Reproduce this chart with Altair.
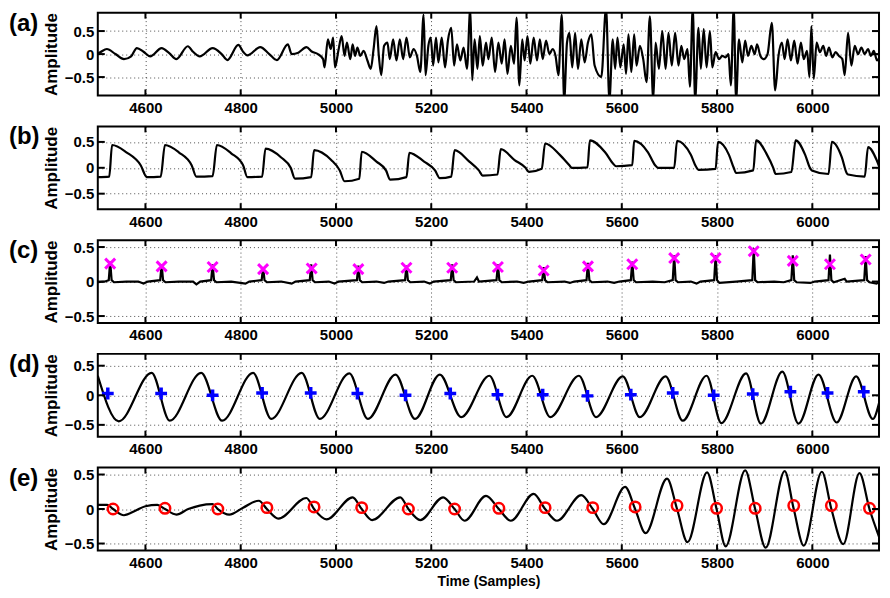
import altair as alt
import pandas as pd

# ---------------- data ----------------
x_domain = [4500, 6140]
x_ticks = [4600, 4800, 5000, 5200, 5400, 5600, 5800, 6000]
y_ticks = [-0.5, 0, 0.5]
panel_labels = ["(a)", "(b)", "(c)", "(d)", "(e)"]
y_domains = [[-0.9, 0.9], [-0.8, 0.8], [-0.6, 0.6], [-0.7, 0.7], [-0.6, 0.6]]

a_points = [
    (4500, 0.02), (4503, 0.03), (4519, 0.11), (4537, 0.0), (4555, -0.11), (4570, -0.05), (4582, 0.13),
    (4596, 0.05), (4610, -0.05), (4634, 0.13), (4650, 0.02), (4665, -0.11), (4689, 0.17), (4700, 0.05),
    (4714, -0.05), (4741, 0.13), (4760, 0.0), (4772, -0.13), (4795, 0.2), (4805, 0.05), (4814, -0.03),
    (4841, 0.15), (4860, 0.0), (4876, -0.13), (4899, 0.21), (4907, 0.0), (4921, 0.03), (4938, 0.15),
    (4950, 0.05), (4962, 0.0),
    (4973, -0.11), (4976, -0.29), (4983, 0.32), (4989, 0.11), (4994, 0.36), (4998, -0.29), (5005, 0.07),
    (5012, 0.39), (5018, -0.04), (5023, 0.25), (5030, -0.11), (5035, 0.21), (5040, -0.04), (5045, 0.14),
    (5051, -0.04), (5058, 0.07), (5066, -0.14), (5073, -0.32), (5079, 0.11), (5085, 0.61), (5090, -0.04),
    (5095, -0.46), (5101, 0.18), (5108, 0.25), (5113, -0.11), (5120, 0.32), (5127, -0.14), (5134, 0.32),
    (5141, -0.11), (5148, 0.36), (5155, -0.07), (5163, 0.11), (5170, -0.04), (5177, -0.39), (5184, 0.86),
    (5188, -0.46), (5194, 0.18), (5199, 0.36), (5204, -0.25), (5210, 0.36), (5215, -0.18), (5222, 0.36),
    (5229, -0.29), (5235, 0.29), (5242, 0.57), (5248, -0.25), (5254, 0.21), (5261, -0.14), (5268, 0.14),
    (5275, -0.32), (5282, 1.0), (5286, -0.57), (5291, 0.32), (5297, -0.32), (5302, 0.39), (5308, -0.25),
    (5315, 0.25), (5320, -0.11), (5327, 0.36), (5334, -0.39), (5341, 0.25), (5348, -0.21), (5354, 0.32),
    (5360, -0.43), (5367, 0.18), (5374, -0.21), (5379, 0.79), (5385, -0.68), (5391, 0.32), (5396, -0.14),
    (5402, 0.39), (5408, -0.21), (5415, 0.36), (5422, -0.14), (5428, 0.32), (5434, -0.11), (5441, 0.29),
    (5448, 0.0), (5455, 0.11), (5461, -0.04), (5467, -0.46), (5474, 0.86), (5479, -1.0), (5485, 0.25),
    (5490, 0.46), (5496, -0.29), (5502, 0.46), (5508, -0.32), (5515, 0.32), (5522, -0.18), (5529, 0.25),
    (5536, 0.43), (5543, -0.25), (5557, -0.5), (5567, 1.0), (5574, -1.0), (5581, 0.32), (5586, -0.32),
    (5591, 0.36), (5597, -0.29), (5604, 0.21), (5609, -0.43), (5614, 0.43), (5620, -0.39), (5626, 0.43),
    (5631, -0.25), (5638, 0.18), (5645, -0.11), (5652, -0.61), (5659, 0.82), (5666, -1.0), (5671, 0.25),
    (5678, -0.32), (5685, 0.5), (5692, -0.32), (5698, 0.46), (5705, -0.25), (5712, 0.46), (5719, -0.25),
    (5725, 0.18), (5731, -0.11), (5738, 0.11), (5743, -0.71), (5749, 1.0), (5754, -1.0), (5761, 0.57),
    (5766, -0.32), (5772, 0.54), (5778, -0.29), (5785, 0.5), (5790, -0.29), (5797, 0.04), (5804, -0.11),
    (5811, -0.04), (5818, -0.07), (5824, 0.0), (5829, -0.68), (5835, 1.0), (5840, -1.0), (5846, 0.32),
    (5853, -0.18), (5859, 0.29), (5865, -0.04), (5872, 0.18), (5879, 0.0), (5884, 0.21), (5891, -0.04),
    (5898, -0.11), (5906, 0.0), (5915, 0.68), (5922, -0.79), (5929, -0.04), (5936, 0.25), (5942, -0.11),
    (5948, 0.32), (5955, -0.14), (5962, 0.29), (5969, -0.21), (5976, 0.25), (5982, -0.11), (5989, 0.07),
    (5994, -0.5), (5998, 0.61), (6003, -0.54), (6009, 0.25), (6016, 0.04), (6023, 0.18), (6029, -0.04),
    (6035, 0.14), (6042, -0.07), (6049, 0.04), (6056, -0.04), (6063, -0.11), (6068, -0.46), (6075, 0.46),
    (6082, -0.25), (6089, 0.18), (6096, 0.0), (6103, 0.14), (6110, 0.0), (6117, 0.11), (6123, -0.04),
    (6129, 0.07), (6136, -0.14), (6143, 0.0),
]

b_points = [
    (4500, -0.18), (4524, -0.17), (4530, 0.44), (4560, 0.30), (4590, 0.05), (4603, -0.18),
    (4632, -0.17), (4641, 0.44), (4670, 0.30), (4697, 0.05), (4707, -0.17),
    (4741, -0.16), (4750, 0.44), (4780, 0.28), (4805, 0.05), (4814, -0.18),
    (4845, -0.17), (4852, 0.37), (4885, 0.20), (4905, 0.0), (4914, -0.21),
    (4948, -0.18), (4954, 0.34), (4990, 0.15), (5008, -0.05), (5018, -0.26),
    (5049, -0.21), (5054, 0.31), (5085, 0.12), (5105, -0.05), (5114, -0.23),
    (5148, -0.18), (5154, 0.29), (5185, 0.12), (5208, -0.05), (5218, -0.20),
    (5242, -0.17), (5249, 0.34), (5280, 0.12), (5300, -0.05), (5308, -0.15),
    (5339, -0.13), (5346, 0.36), (5375, 0.15), (5398, 0.0), (5405, -0.08),
    (5432, -0.02), (5439, 0.47), (5470, 0.25), (5490, 0.05), (5495, 0.0),
    (5528, 0.01), (5533, 0.53), (5565, 0.30), (5582, 0.08), (5588, 0.03),
    (5622, 0.05), (5626, 0.52), (5655, 0.30), (5670, 0.05), (5676, 0.0),
    (5710, 0.0), (5716, 0.52), (5745, 0.25), (5756, 0.02), (5761, -0.04),
    (5797, -0.02), (5802, 0.50), (5825, 0.25), (5835, 0.0), (5840, -0.10),
    (5876, -0.05), (5882, 0.53), (5905, 0.25), (5918, 0.0), (5923, -0.12),
    (5956, -0.08), (5965, 0.53), (5985, 0.25), (5995, 0.0), (5999, -0.05),
    (6034, -0.12), (6041, 0.50), (6062, 0.20), (6072, -0.10), (6075, -0.13),
    (6110, -0.17), (6117, 0.40), (6135, 0.15), (6141, 0.01),
]

c_points = [
    (4500, -0.01), (4515, 0.0), (4523, 0.02), (4526, 0.29), (4529, 0.02), (4534, -0.01), (4560, 0.0),
    (4585, 0.0), (4596, -0.03), (4605, 0.0), (4631, 0.02), (4634, 0.25), (4637, 0.02), (4642, -0.01),
    (4670, 0.0), (4700, 0.0), (4707, -0.04), (4715, 0.0), (4738, 0.02), (4741, 0.25), (4744, 0.02),
    (4749, -0.01), (4780, 0.0), (4810, -0.03), (4818, 0.0), (4844, 0.02), (4847, 0.21), (4850, 0.02),
    (4855, -0.01), (4885, 0.0), (4907, -0.03), (4915, 0.0), (4945, 0.02), (4948, 0.25), (4951, 0.02),
    (4956, -0.01), (4985, 0.0), (4997, -0.03), (5005, 0.0), (5044, 0.02), (5047, 0.23), (5050, 0.02),
    (5055, -0.01), (5085, 0.0), (5101, -0.02), (5110, 0.0), (5145, 0.02), (5148, 0.23), (5151, 0.02),
    (5156, -0.01), (5185, 0.0), (5197, -0.03), (5205, 0.0), (5241, 0.02), (5244, 0.25), (5247, 0.02),
    (5252, -0.01), (5290, 0.0), (5296, 0.06), (5300, 0.0), (5337, 0.02), (5340, 0.25), (5343, 0.02),
    (5348, -0.01), (5380, 0.0), (5394, -0.02), (5405, 0.0), (5433, 0.02), (5436, 0.21), (5439, 0.02),
    (5444, -0.01), (5480, 0.0), (5491, -0.02), (5500, 0.0), (5526, 0.02), (5529, 0.27), (5532, 0.02),
    (5537, -0.01), (5570, 0.0), (5584, -0.02), (5595, 0.0), (5619, 0.02), (5622, 0.29), (5625, 0.02),
    (5630, -0.01), (5665, 0.0), (5690, -0.01), (5707, 0.02), (5710, 0.38), (5713, 0.02), (5718, -0.01),
    (5745, 0.0), (5757, -0.03), (5765, 0.0), (5794, 0.02), (5797, 0.38), (5800, 0.02), (5805, -0.02),
    (5840, 0.0), (5874, 0.02), (5877, 0.48), (5880, 0.02), (5885, -0.01), (5920, 0.0), (5940, -0.01),
    (5956, 0.02), (5959, 0.38), (5962, 0.02), (5967, -0.01), (5996, -0.02), (6005, 0.0), (6034, 0.02),
    (6037, 0.39), (6040, 0.02), (6045, -0.01), (6068, 0.04), (6072, 0.0), (6109, 0.02), (6112, 0.37),
    (6115, 0.02), (6120, -0.01), (6135, -0.03), (6141, 0.0),
]
c_marker_x = [4526, 4634, 4741, 4847, 4949, 5047, 5148, 5244, 5340, 5436, 5529, 5622, 5710, 5797, 5877, 5959, 6037, 6112]
c_marker_y = [0.26, 0.22, 0.21, 0.18, 0.19, 0.18, 0.20, 0.20, 0.21, 0.16, 0.22, 0.25, 0.34, 0.34, 0.44, 0.30, 0.25, 0.32]

d_points = [
    (4500, 0.33), (4544, -0.44), (4613, 0.38), (4651, -0.43), (4717, 0.38), (4761, -0.43), (4826, 0.38),
    (4864, -0.40), (4928, 0.38), (4966, -0.40), (5028, 0.37), (5067, -0.40), (5125, 0.35), (5166, -0.40),
    (5218, 0.35), (5263, -0.37), (5322, 0.33), (5358, -0.37), (5412, 0.33), (5450, -0.37), (5510, 0.33),
    (5546, -0.37), (5602, 0.32), (5638, -0.37), (5692, 0.32), (5728, -0.43), (5778, 0.33), (5809, -0.47),
    (5861, 0.37), (5892, -0.48), (5937, 0.40), (5971, -0.48), (6013, 0.35), (6051, -0.46), (6092, 0.32),
    (6127, -0.40), (6141, -0.10),
]
d_marker_x = [4521, 4633, 4741, 4845, 4947, 5045, 5146, 5240, 5339, 5434, 5528, 5619, 5707, 5793, 5875, 5954, 6032, 6108]
d_marker_y = [0.03, 0.03, 0.0, 0.04, 0.04, 0.03, 0.0, 0.03, 0.01, 0.01, -0.01, 0.01, 0.04, 0.0, 0.02, 0.06, 0.04, 0.06]

e_points = [
    (4500, 0.06), (4520, 0.06), (4532, 0.0), (4555, -0.09), (4580, -0.02), (4600, 0.04), (4625, 0.06),
    (4641, 0.0), (4665, -0.08), (4690, 0.0), (4714, 0.05), (4741, 0.07), (4752, 0.0), (4776, -0.08),
    (4805, 0.02), (4838, 0.12), (4855, 0.0), (4879, -0.14), (4938, 0.16), (4954, 0.0), (4980, -0.15),
    (5035, 0.17), (5054, 0.0), (5076, -0.16), (5135, 0.17), (5152, 0.0), (5177, -0.16), (5225, 0.17),
    (5249, 0.0), (5270, -0.17), (5315, 0.19), (5342, 0.0), (5367, -0.17), (5415, 0.22), (5439, 0.0),
    (5464, -0.17), (5515, 0.20), (5539, 0.0), (5562, -0.22), (5607, 0.32), (5628, 0.0), (5650, -0.35),
    (5695, 0.44), (5716, 0.0), (5738, -0.48), (5779, 0.53), (5799, 0.0), (5818, -0.54), (5859, 0.56),
    (5880, 0.0), (5902, -0.56), (5942, 0.55), (5961, 0.0), (5982, -0.53), (6020, 0.54), (6040, 0.0),
    (6065, -0.51), (6099, 0.52), (6120, 0.0), (6141, -0.42),
]
e_marker_x = [4532, 4641, 4752, 4855, 4954, 5054, 5152, 5249, 5342, 5439, 5539, 5628, 5716, 5799, 5880, 5961, 6040, 6120]
e_marker_y = [0.0, 0.01, 0.0, 0.02, 0.03, 0.02, 0.0, 0.0, 0.01, 0.02, 0.02, 0.03, 0.05, 0.01, 0.01, 0.05, 0.05, 0.01]

# ---------------- styling ----------------
W, H = 783, 83
NUM_FONT = "Liberation Sans Narrow, Liberation Sans, Arial, sans-serif"
TXT_FONT = "Liberation Sans, Arial, sans-serif"
X_PATH = "M-1,-1L1,1M-1,1L1,-1"
PLUS_PATH = "M-1,0L1,0M0,-1L0,1"


def pts_df(points):
    return pd.DataFrame({"x": [p[0] for p in points], "y": [p[1] for p in points]})


def panel(i, points, interp, marker_x=None, marker_y=None, shape=None, color=None,
          size=100, mstroke=3.0, last=False):
    xs = alt.Scale(domain=x_domain, nice=False, zero=False)
    ys = alt.Scale(domain=y_domains[i], nice=False, zero=False)
    xaxis_kw = dict(values=x_ticks, format="d", grid=True, gridDash=[1, 3], gridColor="#222",
                    gridOpacity=0.8, gridWidth=1, ticks=False, domain=False,
                    labelFont=NUM_FONT, labelFontSize=15, labelFontWeight="bold",
                    labelColor="black", labelPadding=5)
    if last:
        xaxis_kw.update(title="Time (Samples)", titleFont=TXT_FONT, titleFontSize=14,
                        titleFontWeight="bold", titleColor="black", titlePadding=4)
    else:
        xaxis_kw.update(title=None)
    xaxis = alt.Axis(**xaxis_kw)
    yaxis = alt.Axis(values=y_ticks,
                     labelExpr="datum.value == 0 ? '0' : (datum.value < 0 ? '\u2212' : '') + format(abs(datum.value), '.1f')",
                     grid=True, gridDash=[1, 3], gridColor="#222", gridOpacity=0.8, gridWidth=1,
                     ticks=False, domain=False, labelFont=NUM_FONT, labelFontSize=15,
                     labelFontWeight="bold", labelColor="black", labelPadding=4,
                     title="Amplitude", titleFont=TXT_FONT, titleFontSize=17,
                     titleFontWeight="bold", titleColor="black", titlePadding=4)

    def X(field):
        return alt.X(field, scale=xs, axis=xaxis)

    def Y(field):
        return alt.Y(field, scale=ys, axis=yaxis)

    line = alt.Chart(pts_df(points)).mark_line(
        color="black", strokeWidth=2.2, interpolate=interp, clip=True
    ).encode(x=X("x:Q"), y=Y("y:Q"))
    layers = [line]

    if marker_x is not None:
        mdf = pd.DataFrame({"x": marker_x, "y": marker_y})
        mk = alt.Chart(mdf).mark_point(
            shape=shape, filled=False, stroke=color, strokeWidth=mstroke, size=size, opacity=1
        ).encode(x=X("x:Q"), y=Y("y:Q"))
        layers.append(mk)

    xt = pd.DataFrame({"x": x_ticks})
    yt = pd.DataFrame({"y": y_ticks})
    tick_style = dict(color="black", strokeWidth=2)
    layers.append(alt.Chart(xt).mark_rule(**tick_style).encode(
        x=X("x:Q"), y=alt.value(0), y2=alt.value(6)))
    layers.append(alt.Chart(xt).mark_rule(**tick_style).encode(
        x=X("x:Q"), y=alt.value(H - 6), y2=alt.value(H)))
    layers.append(alt.Chart(yt).mark_rule(**tick_style).encode(
        y=Y("y:Q"), x=alt.value(0), x2=alt.value(7)))
    layers.append(alt.Chart(yt).mark_rule(**tick_style).encode(
        y=Y("y:Q"), x=alt.value(W - 7), x2=alt.value(W)))

    lab = alt.Chart(pd.DataFrame({"t": [panel_labels[i]]})).mark_text(
        align="left", baseline="top", fontSize=24, fontWeight="bold", font=TXT_FONT, color="black"
    ).encode(text="t:N", x=alt.value(-89), y=alt.value(-1))
    layers.append(lab)

    return alt.layer(*layers).properties(width=W, height=H)


pa = panel(0, a_points, "monotone")
pb = panel(1, b_points, "monotone")
pc = panel(2, c_points, "linear", c_marker_x, c_marker_y, X_PATH, "#ff00ff", size=100, mstroke=3)
pd_ = panel(3, d_points, "monotone", d_marker_x, d_marker_y, PLUS_PATH, "#0000ff", size=140, mstroke=3.5)
pe = panel(4, e_points, "monotone", e_marker_x, e_marker_y, "circle", "#ff0000", size=110, mstroke=2.5, last=True)

chart = alt.vconcat(pa, pb, pc, pd_, pe, spacing=31, bounds="flush").properties(
    padding={"left": 0, "top": 2, "right": 1, "bottom": 0},
    background="white",
).configure_view(stroke="black", strokeWidth=2)

chart.save("out.html", embed_options={"renderer": "svg", "actions": False})
